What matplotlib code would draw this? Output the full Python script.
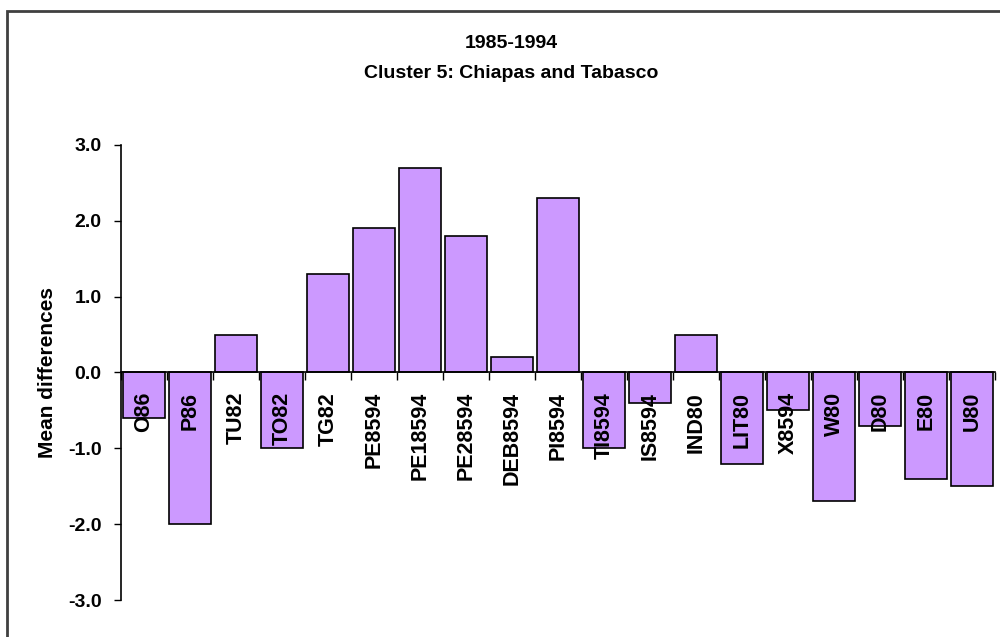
import numpy as np
import matplotlib.pyplot as plt
from matplotlib.patches import Rectangle

categories = ['O86', 'P86', 'TU82', 'TO82', 'TG82', 'PE8594', 'PE18594', 'PE28594',
              'DEB8594', 'PI8594', 'TI8594', 'IS8594', 'IND80', 'LIT80', 'X8594',
              'W80', 'D80', 'E80', 'U80']
values = [-0.6, -2.0, 0.5, -1.0, 1.3, 1.9, 2.7, 1.8, 0.2, 2.3,
          -1.0, -0.4, 0.5, -1.2, -0.5, -1.7, -0.7, -1.4, -1.5]
yticks = [3.0, 2.0, 1.0, 0.0, -1.0, -2.0, -3.0]

plt.rcParams['font.family'] = ['Liberation Sans', 'DejaVu Sans']
plt.rcParams['font.weight'] = 'bold'

fig = plt.figure(figsize=(10, 6.37), dpi=100)
ax = fig.add_axes([0.121, 0.058, 0.874, 0.7145])

x = np.arange(len(categories))
ax.bar(x, values, width=0.93, color='#CC99FF', edgecolor='black', linewidth=1.2, zorder=1)

ax.set_xlim(-0.5, len(categories) - 0.5)
ax.set_ylim(-3.0, 3.0)

# left axis line plus the x axis sitting at zero
for s in ['top', 'right']:
    ax.spines[s].set_visible(False)
ax.spines['bottom'].set_position(('data', 0))
ax.spines['left'].set_linewidth(1.2)
ax.spines['bottom'].set_linewidth(1.2)

ax.set_xticks(x)
ax.set_xticklabels(categories, rotation=90, fontsize=15.5, fontweight='bold', va='top')
ax.set_xticks(np.arange(len(categories) + 1) - 0.5, minor=True)
ax.tick_params(axis='x', which='major', length=0, pad=14)
ax.tick_params(axis='x', which='minor', length=6, direction='out', width=1)

ax.set_yticks(yticks)
ax.set_yticklabels([f'{v:.1f}' for v in yticks], fontsize=14, fontweight='bold')
ax.tick_params(axis='y', length=5, width=1, pad=9)
ax.set_ylabel('Mean differences', fontsize=15, fontweight='bold', labelpad=8)

fig.text(0.511, 0.931, '1985-1994', ha='center', va='center', fontsize=14, fontweight='bold')
fig.text(0.511, 0.885, 'Cluster 5: Chiapas and Tabasco', ha='center', va='center',
         fontsize=14, fontweight='bold')

# outer chart frame
fig.patches.append(Rectangle((0.007, -0.05), 1.05, 1.05 - 0.017, transform=fig.transFigure,
                             fill=False, edgecolor='#404040', linewidth=2))

fig.savefig('out.png', dpi=100)
